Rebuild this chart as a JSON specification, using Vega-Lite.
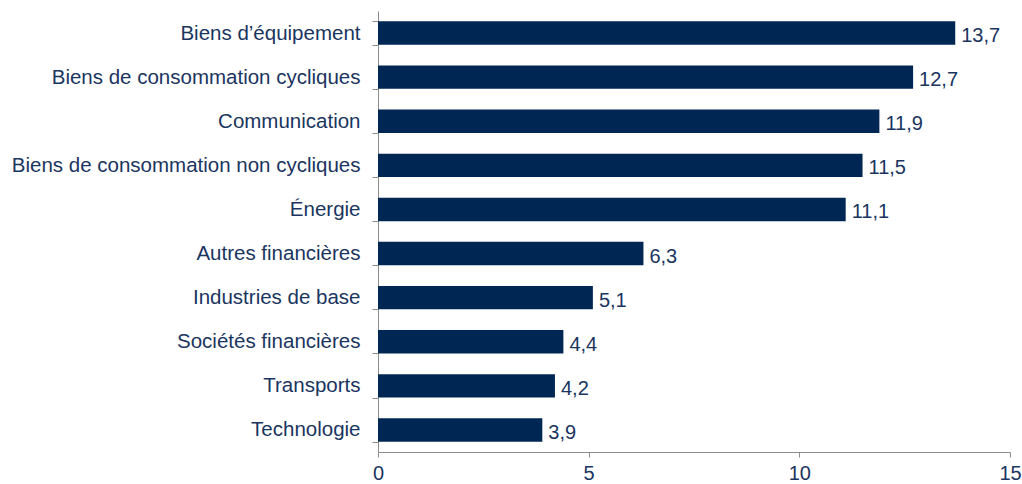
{
  "$schema": "https://vega.github.io/schema/vega-lite/v6.json",
  "autosize": "none",
  "width": 632,
  "height": 441,
  "padding": {"left": 378, "top": 11, "right": 12, "bottom": 32},
  "background": "white",
  "config": {"view": {"stroke": null}, "font": "Liberation Sans"},
  "data": {"values": [
    {"secteur": "Biens d’équipement", "valeur": 13.7, "label": "13,7"},
    {"secteur": "Biens de consommation cycliques", "valeur": 12.7, "label": "12,7"},
    {"secteur": "Communication", "valeur": 11.9, "label": "11,9"},
    {"secteur": "Biens de consommation non cycliques", "valeur": 11.5, "label": "11,5"},
    {"secteur": "Énergie", "valeur": 11.1, "label": "11,1"},
    {"secteur": "Autres financières", "valeur": 6.3, "label": "6,3"},
    {"secteur": "Industries de base", "valeur": 5.1, "label": "5,1"},
    {"secteur": "Sociétés financières", "valeur": 4.4, "label": "4,4"},
    {"secteur": "Transports", "valeur": 4.2, "label": "4,2"},
    {"secteur": "Technologie", "valeur": 3.9, "label": "3,9"}
  ]},
  "encoding": {
    "y": {
      "field": "secteur", "type": "nominal", "sort": null,
      "scale": {"paddingInner": 0.47, "paddingOuter": 0.235},
      "axis": {
        "title": null, "tickBand": "extent", "tickSize": 6, "tickColor": "#8c8c8c",
        "domainColor": "#8c8c8c", "labelFontSize": 20.5, "labelColor": "#1a3560",
        "labelPadding": 12, "labelLimit": 420
      }
    },
    "x": {
      "field": "valeur", "type": "quantitative",
      "scale": {"domain": [0, 15], "nice": false},
      "axis": {
        "title": null, "values": [0, 5, 10, 15], "grid": false, "tickSize": 5,
        "tickColor": "#8c8c8c", "domainColor": "#8c8c8c", "labelFontSize": 20,
        "labelColor": "#1a3560", "labelPadding": 6, "labelFlush": false
      }
    }
  },
  "layer": [
    {"mark": {"type": "bar", "color": "#002654"}},
    {"mark": {"type": "text", "align": "left", "baseline": "middle", "dx": 6, "dy": 3, "fontSize": 20, "color": "#1a3560"},
     "encoding": {"text": {"field": "label"}}}
  ]
}
